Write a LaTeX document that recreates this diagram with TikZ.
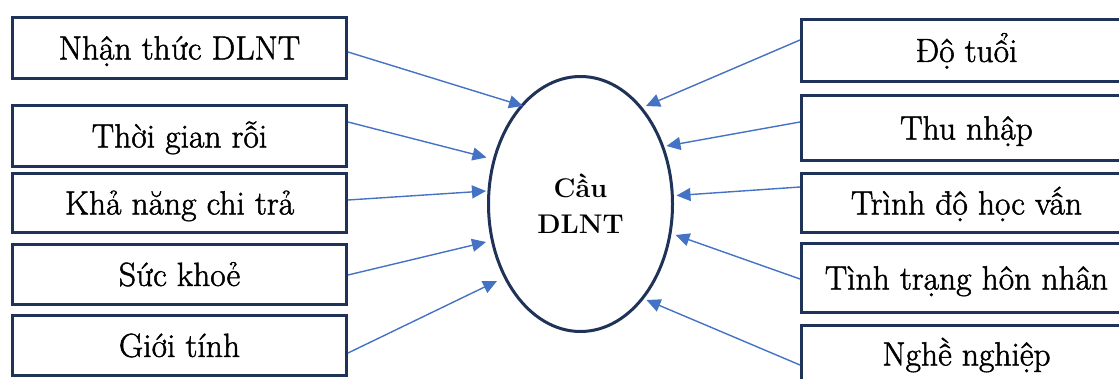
\documentclass[tikz,border=0pt]{standalone}
\usepackage{fontspec}
\setmainfont{Latin Modern Roman}
\usetikzlibrary{arrows.meta,shapes.geometric,calc}
\definecolor{boxline}{HTML}{1F3358}
\definecolor{arrowblue}{HTML}{4472C4}
\tikzset{
  factor/.style={draw=boxline, line width=3pt, minimum width=#1, inner sep=0pt,
    font=\fontsize{33.5}{40}\selectfont\addfontfeature{FakeBold=1.5}, text height=22.9pt, text depth=0pt, anchor=center},
  factor/.default=334pt,
  demand/.style={ellipse, draw=boxline, line width=3pt, minimum width=184pt, minimum height=255pt,
    inner sep=0pt, align=center, font=\bfseries\fontsize{27}{36}\selectfont},
  arr/.style={draw=arrowblue, line width=1.4pt, -{Triangle[length=14pt,width=13pt]}}
}
\begin{document}
\begin{tikzpicture}[x=1pt,y=-1pt]
\useasboundingbox (0,0) rectangle (1119,379);
% left boxes
\node[factor, minimum height=61pt] (l1) at (179.5,48) {Nhận thức DLNT};
\node[factor, minimum height=61pt] (l2) at (179.5,136) {Thời gian rỗi};
\node[factor, minimum height=59pt] (l3) at (179.5,203) {Khả năng chi trả};
\node[factor, minimum height=60pt] (l4) at (179.5,274.5) {Sức khoẻ};
\node[factor, minimum height=60pt] (l5) at (179.5,345.5) {Giới tính};
% right boxes
\node[factor=330pt, minimum height=62pt] (r1) at (966.5,50.5) {Độ tuổi};
\node[factor=330pt, minimum height=65pt] (r2) at (966.5,128) {Thu nhập};
\node[factor=330pt, minimum height=59pt] (r3) at (966.5,203) {Trình độ học vấn};
\node[factor=330pt, minimum height=69pt] (r4) at (966.5,278) {Tình trạng hôn nhân};
\node[factor=330pt, minimum height=57pt] (r5) at (966.5,354) {Nghề nghiệp};
% centre
\node[demand] (e) at (580.5,204) {Cầu\\DLNT};
% connectors
\draw[arr] ($(l1.east)+(0,4)$) -- ($(e.center)+(-57.5,-98)$);
\draw[arr] ($(l2.east)+(0,-14)$) -- ($(e.center)+(-94,-46.5)$);
\draw[arr] ($(l3.east)+(0,-3)$) -- ($(e.center)+(-94.5,-13)$);
\draw[arr] ($(l4.east)+(0,0.5)$) -- ($(e.center)+(-94.5,38)$);
\draw[arr] ($(l5.east)+(0,7.5)$) -- ($(e.center)+(-83.5,77)$);
\draw[arr] ($(r1.west)+(0,-10.5)$) -- ($(e.center)+(65.5,-98)$);
\draw[arr] ($(r2.west)+(0,-6)$) -- ($(e.center)+(86,-58)$);
\draw[arr] ($(r3.west)+(0,-16)$) -- ($(e.center)+(96,-8.5)$);
\draw[arr] ($(r4.west)+(0,1)$) -- ($(e.center)+(95,31)$);
\draw[arr] ($(r5.west)+(0,11)$) -- ($(e.center)+(66,96)$);
\end{tikzpicture}
\end{document}
